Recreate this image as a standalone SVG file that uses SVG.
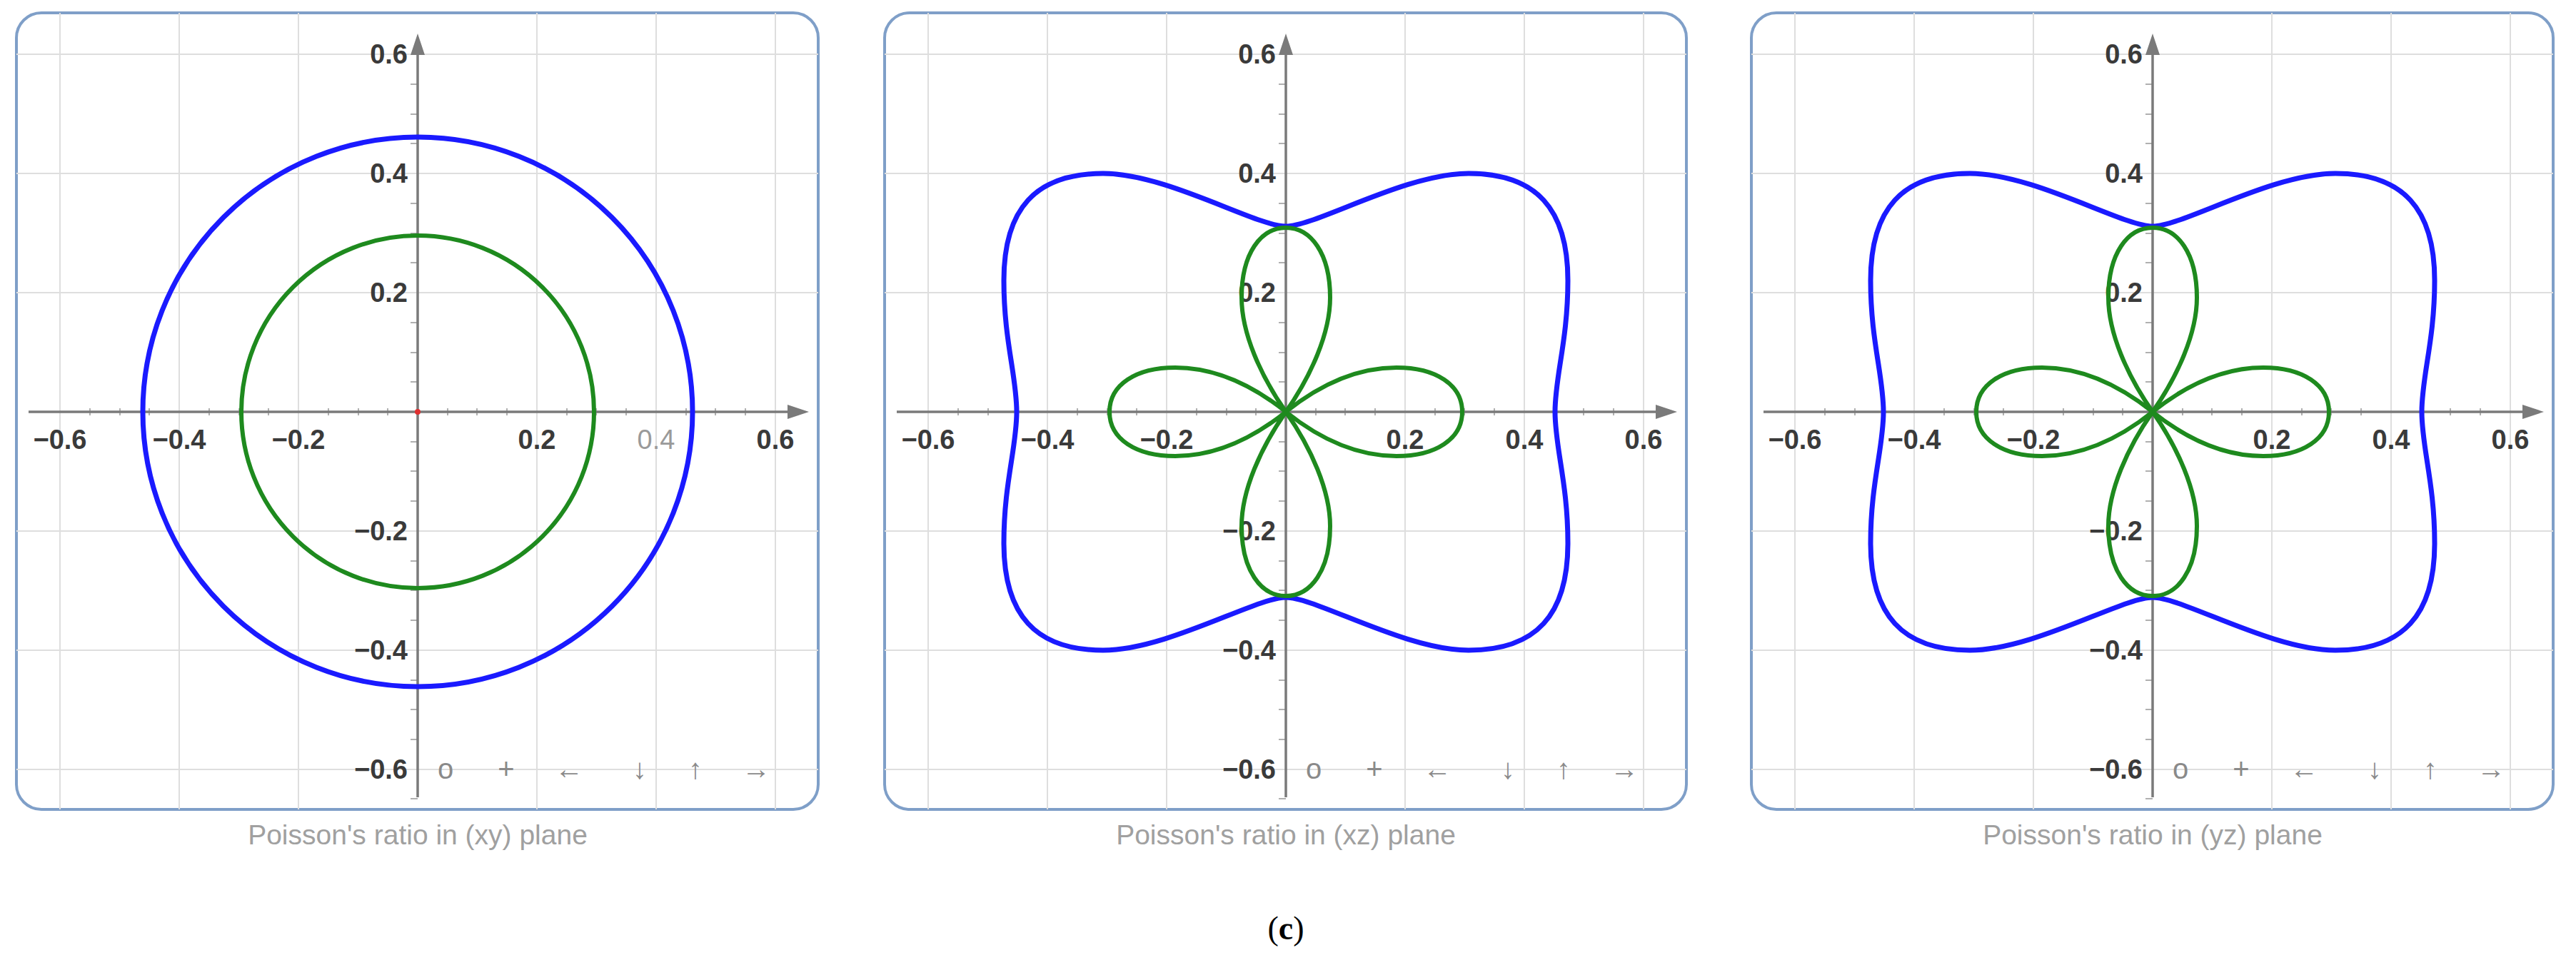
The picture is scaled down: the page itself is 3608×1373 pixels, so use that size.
<svg xmlns="http://www.w3.org/2000/svg" width="3608" height="1373" viewBox="0 0 3608 1373">
<style>
.frame{fill:#fff;stroke:#7f9fc8;stroke-width:4}
.grid{stroke:#dedede;stroke-width:2;fill:none}
.axis{stroke:#7a7a7a;stroke-width:3.5;fill:none}
.tick{stroke:#b0b0b0;stroke-width:2}
.lab{font-family:"Liberation Sans",Arial,sans-serif;font-size:38px;font-weight:bold;fill:#3a3a3a}
.ic{font-family:"Liberation Sans",Arial,sans-serif;font-size:40px;fill:#8a8a8a;text-anchor:middle}
.cap{font-family:"Liberation Sans",Arial,sans-serif;font-size:39px;fill:#a0a0a0;text-anchor:middle}
.blue{fill:none;stroke:#1a1aff;stroke-width:7}
.green{fill:none;stroke:#1e8a1e;stroke-width:6}
</style>
<defs>
<g id="base">
<rect class="frame" x="-562" y="-559" width="1123" height="1116" rx="35"/>
<path class="grid" d="M-501,-559V557M-334,-559V557M-167,-559V557M167,-559V557M334,-559V557M501,-559V557M-562,-501H561M-562,-334H561M-562,-167H561M-562,167H561M-562,334H561M-562,501H561"/>
<path class="tick" d="M-459,-5V5M-417,-5V5M-376,-5V5M-292,-5V5M-250,-5V5M-209,-5V5M-125,-5V5M-83,-5V5M-42,-5V5M42,-5V5M83,-5V5M125,-5V5M209,-5V5M250,-5V5M292,-5V5M376,-5V5M417,-5V5M459,-5V5M-10,-459H0M-10,-417H0M-10,-376H0M-10,-292H0M-10,-250H0M-10,-209H0M-10,-125H0M-10,-83H0M-10,-42H0M-10,42H0M-10,83H0M-10,125H0M-10,209H0M-10,250H0M-10,292H0M-10,376H0M-10,417H0M-10,459H0M-10,542H0"/>
<path class="axis" d="M-545,0H520M0,540V-500"/>
<path d="M548,0L518,-10L518,10Z M0,-530L-10,-500L10,-500Z" fill="#7a7a7a"/>
<circle cx="0" cy="0" r="4" fill="#e03030"/>
<g class="lab" text-anchor="end">
<text x="-14" y="-488">0.6</text><text x="-14" y="-321">0.4</text><text x="-14" y="-154">0.2</text>
<text x="-14" y="180">−0.2</text><text x="-14" y="347">−0.4</text><text x="-14" y="514">−0.6</text>
</g>
<g class="lab" text-anchor="middle">
<text x="-501" y="52">−0.6</text><text x="-334" y="52">−0.4</text><text x="-167" y="52">−0.2</text>
<text x="167" y="52">0.2</text><text x="501" y="52">0.6</text>
</g>
<g class="ic">
<text x="39" y="514">o</text><text x="124" y="514">+</text><text x="212" y="514">←</text><text x="311" y="514">↓</text><text x="389" y="514">↑</text><text x="474" y="514">→</text>
</g>
</g>
<path id="bfly" class="blue" d="M0,-260 C42,-260 167,-334 256,-334 C351,-334 395,-284 395,-184 C395,-100 377,-50 377,0 C377,50 395,100 395,184 C395,284 351,334 256,334 C167,334 42,260 0,260 C-42,260 -167,334 -256,334 C-351,334 -395,284 -395,184 C-395,100 -377,50 -377,0 C-377,-50 -395,-100 -395,-184 C-395,-284 -351,-334 -256,-334 C-167,-334 -42,-260 0,-260 Z"/>
<path id="clover" class="green" d="M0,0 C50,-40 100,-62 155,-62 C210,-62 247,-38 247,0 C247,38 210,62 155,62 C100,62 50,40 0,0 C-50,-40 -100,-62 -155,-62 C-210,-62 -247,-38 -247,0 C-247,38 -210,62 -155,62 C-100,62 -50,40 0,0 C-35,-50 -62,-110 -62,-160 C-62,-222 -35,-258 0,-258 C35,-258 62,-222 62,-160 C62,-110 35,-50 0,0 C-35,50 -62,110 -62,160 C-62,222 -35,258 0,258 C35,258 62,222 62,160 C62,110 35,50 0,0Z"/>
</defs>
<g id="panel-xy" transform="translate(585,577)">
<use href="#base"/>
<text class="lab" x="334" y="52" text-anchor="middle" style="fill:#9a9a9a;font-weight:normal">0.4</text>
<circle class="blue" cx="0" cy="0" r="385"/>
<circle class="green" cx="0" cy="0" r="247"/>
<text class="cap" x="0" y="606">Poisson's ratio in (xy) plane</text>
</g>
<g id="panel-xz" transform="translate(1801,577)">
<use href="#base"/>
<text class="lab" x="334" y="52" text-anchor="middle">0.4</text>
<use href="#bfly"/><use href="#clover"/>
<text class="cap" x="0" y="606">Poisson's ratio in (xz) plane</text>
</g>
<g id="panel-yz" transform="translate(3015,577)">
<use href="#base"/>
<text class="lab" x="334" y="52" text-anchor="middle">0.4</text>
<use href="#bfly"/><use href="#clover"/>
<text class="cap" x="0" y="606">Poisson's ratio in (yz) plane</text>
</g>
<text x="1801" y="1316" text-anchor="middle" font-family="'Liberation Serif','Times New Roman',serif" font-size="46">(<tspan font-weight="bold">c</tspan>)</text>
</svg>
